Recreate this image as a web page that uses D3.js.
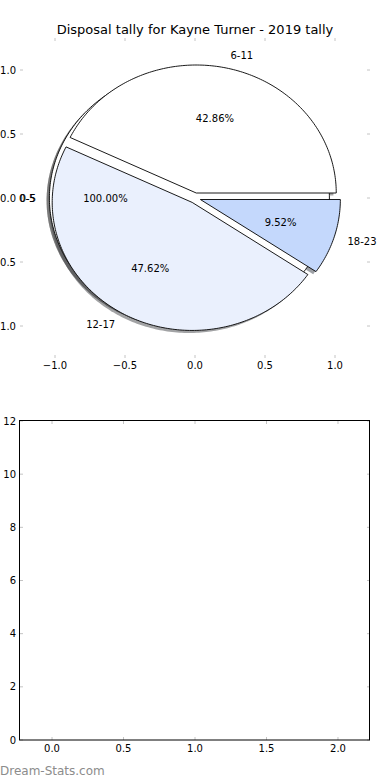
<!DOCTYPE html>
<html><head><meta charset="utf-8">
<script src="https://cdn.jsdelivr.net/npm/d3@7"></script>
<style>body{margin:0;background:#fff} svg{display:block;font-family:"DejaVu Sans",sans-serif}</style>
</head><body>
<script>
const title = "Disposal tally for Kayne Turner - 2019 tally";
const categories = ["6-11", "12-17", "18-23"];
const counts = [9, 10, 2];
const sliceColors = ["#ffffff", "#eaf0fd", "#c4d8fc"];
const baseCategories = ["0-5"];
const baseCounts = [1];
const baseColors = ["#ffffff"];
const pieTicks = [-1, -0.5, 0, 0.5, 1];
const barYTicks = [0, 2, 4, 6, 8, 10, 12];
const barXTicks = [0, 0.5, 1, 1.5, 2];
const explode = 0.04;

const W = 390, H = 780;
const svg = d3.select("body").append("svg").attr("width", W).attr("height", H);

// ---------- pie axes ----------
const px = d3.scaleLinear().domain([-1.25, 1.25]).range([20, 370]);
const py = d3.scaleLinear().domain([-1.25, 1.25]).range([358, 38]);
const tickCol = "#c4c4c4";

svg.append("text").attr("x", 195).attr("y", 34).attr("text-anchor", "middle")
  .attr("font-size", 13).text(title);

const fmt1 = d3.format(".1f");
const pg = svg.append("g");
pieTicks.forEach(t => {
  pg.append("line").attr("x1", px(t)).attr("x2", px(t)).attr("y1", 38).attr("y2", 41).attr("stroke", tickCol);
  pg.append("line").attr("x1", px(t)).attr("x2", px(t)).attr("y1", 358).attr("y2", 355).attr("stroke", tickCol);
  pg.append("line").attr("y1", py(t)).attr("y2", py(t)).attr("x1", 20).attr("x2", 23).attr("stroke", tickCol);
  pg.append("line").attr("y1", py(t)).attr("y2", py(t)).attr("x1", 370).attr("x2", 367).attr("stroke", tickCol);
  pg.append("text").attr("x", px(t)).attr("y", 369).attr("text-anchor", "middle").attr("font-size", 10).text(fmt1(t));
  pg.append("text").attr("x", 16).attr("y", py(t)).attr("dy", "0.35em").attr("text-anchor", "end").attr("font-size", 10).text(fmt1(t));
});

const line = d3.line();
function wedgePoints(ox, oy, a0, a1, dx, dy) {
  const full = Math.abs(a1 - a0 - 2 * Math.PI) < 1e-9;
  const n = Math.max(8, Math.ceil((a1 - a0) / (Math.PI / 180)));
  const pts = [];
  if (!full) pts.push([px(ox + dx), py(oy + dy)]);
  for (let i = 0; i <= n; i++) {
    const a = a0 + (a1 - a0) * i / n;
    pts.push([px(ox + dx + Math.cos(a)), py(oy + dy + Math.sin(a))]);
  }
  return line(pts) + "Z";
}
function darken(c) {
  const k = d3.rgb(c);
  return d3.rgb(k.r * 0.3, k.g * 0.3, k.b * 0.3).toString();
}
function pieLayout(vals) {
  return d3.pie().sort(null).startAngle(0).endAngle(2 * Math.PI)(vals).map(d => {
    const mid = (d.startAngle + d.endAngle) / 2;
    return Object.assign(d, {mid, ox: explode * Math.cos(mid), oy: explode * Math.sin(mid)});
  });
}
const baseArcs = pieLayout(baseCounts);
const mainArcs = pieLayout(counts);
const baseTotal = d3.sum(baseCounts), mainTotal = d3.sum(counts);

const sh = svg.append("g");
[0, 1].forEach(() => baseArcs.forEach((d, i) => {
  sh.append("path").attr("d", wedgePoints(d.ox, d.oy, d.startAngle, d.endAngle, -0.02, -0.02))
    .attr("fill", darken(baseColors[i])).attr("fill-opacity", 0.5);
}));
mainArcs.forEach((d, i) => {
  sh.append("path").attr("d", wedgePoints(d.ox, d.oy, d.startAngle, d.endAngle, -0.02, -0.02))
    .attr("fill", darken(sliceColors[i])).attr("fill-opacity", 0.5);
});
baseArcs.forEach((d, i) => {
  sh.append("path").attr("d", wedgePoints(d.ox, d.oy, d.startAngle, d.endAngle, 0, 0))
    .attr("fill", baseColors[i]).attr("stroke", "#000").attr("stroke-width", 0.9);
});
mainArcs.forEach((d, i) => {
  sh.append("path").attr("d", wedgePoints(d.ox, d.oy, d.startAngle, d.endAngle, 0, 0))
    .attr("fill", sliceColors[i]).attr("stroke", "#000").attr("stroke-width", 0.9).attr("stroke-linejoin", "miter");
});
const pctFmt = d3.format(".2f");
function labels(arcs, names, total, shift, pctToo) {
  arcs.forEach((d, i) => {
    const lx = d.ox + 1.1 * Math.cos(d.mid), ly = d.oy + 1.1 * Math.sin(d.mid);
    svg.append("text").attr("x", px(lx) + shift).attr("y", py(ly)).attr("dy", "0.35em")
      .attr("text-anchor", lx < 0 ? "end" : "start").attr("font-size", 10).text(names[i]);
    if (pctToo) {
      const tx = d.ox + 0.6 * Math.cos(d.mid), ty = d.oy + 0.6 * Math.sin(d.mid);
      svg.append("text").attr("x", px(tx) + shift).attr("y", py(ty)).attr("dy", "0.35em")
        .attr("text-anchor", "middle").attr("font-size", 10).text(pctFmt(d.value / total * 100) + "%");
    }
  });
}
labels(baseArcs, baseCategories, baseTotal, 0, true);
labels(baseArcs, baseCategories, baseTotal, 0.7, false);
labels(mainArcs, categories, mainTotal, 0, true);

// ---------- empty bar axes ----------
const bx = d3.scaleLinear().domain([-0.224, 2.224]).range([20, 370]);
const by = d3.scaleLinear().domain([0, 12]).range([740, 421]);
const bg = svg.append("g");
barXTicks.forEach(t => {
  bg.append("line").attr("x1", bx(t)).attr("x2", bx(t)).attr("y1", 740).attr("y2", 737).attr("stroke", tickCol);
  bg.append("line").attr("x1", bx(t)).attr("x2", bx(t)).attr("y1", 421).attr("y2", 424).attr("stroke", tickCol);
  bg.append("text").attr("x", bx(t)).attr("y", 752).attr("text-anchor", "middle").attr("font-size", 10).text(fmt1(t));
});
barYTicks.forEach(t => {
  bg.append("line").attr("y1", by(t)).attr("y2", by(t)).attr("x1", 20).attr("x2", 23).attr("stroke", tickCol);
  bg.append("line").attr("y1", by(t)).attr("y2", by(t)).attr("x1", 370).attr("x2", 367).attr("stroke", tickCol);
  bg.append("text").attr("x", 16).attr("y", by(t)).attr("dy", "0.35em").attr("text-anchor", "end").attr("font-size", 10).text(t);
});
bg.append("rect").attr("x", 19.5).attr("y", 420.5).attr("width", 350).attr("height", 319.5)
  .attr("fill", "none").attr("stroke", "#000").attr("stroke-width", 1);

svg.append("text").attr("x", 0).attr("y", 775).attr("font-size", 12).attr("fill", "#8c8c8c")
  .text("Dream-Stats.com");
</script>
</body></html>
